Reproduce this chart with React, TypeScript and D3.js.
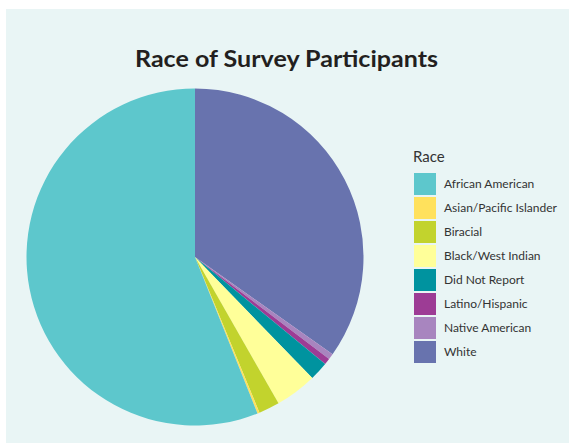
import React from "react";
import * as d3 from "d3";

const categories = [
  "African American",
  "Asian/Pacific Islander",
  "Biracial",
  "Black/West Indian",
  "Did Not Report",
  "Latino/Hispanic",
  "Native American",
  "White",
];
const values = [56.05, 0.2, 2.0, 4.0, 1.8, 0.6, 0.55, 34.8];
const colors = [
  "#5dc7cc",
  "#ffe15c",
  "#c2d32d",
  "#ffff99",
  "#00939f",
  "#9d3c95",
  "#a885bf",
  "#6873ae",
];

const W = 569;
const H = 443;

export default function App() {
  const cx = 195;
  const cy = 257;
  const r = 168.5;
  const data = categories.map((c, i) => ({ c, v: values[i], col: colors[i] })).reverse();
  const pie = d3.pie<any>().sort(null).value((d) => d.v);
  const arc = d3.arc<any>().innerRadius(0).outerRadius(r);
  const arcs = pie(data);
  const legendY = d3.scaleBand().domain(categories).range([172, 172 + 24 * 8]);

  return (
    <svg
      width={W}
      height={H}
      style={{ position: "absolute", left: 0, top: 0, fontFamily: "Lato, sans-serif" }}
    >
      <rect x={6} y={9} width={W - 6} height={H - 9} fill="#e9f5f5" />
      <text
        x={135}
        y={67}
        fontSize={22}
        fontWeight="bold"
        fill="#231f20"
        textLength={303}
        lengthAdjust="spacingAndGlyphs"
      >
        Race of Survey Participants
      </text>
      <g transform={`translate(${cx},${cy})`}>
        {arcs.map((a, i) => (
          <path key={i} d={arc(a) as string} fill={a.data.col} />
        ))}
      </g>
      <text x={413} y={162} fontSize={15} fill="#333">
        Race
      </text>
      {categories.map((c, i) => (
        <g key={c}>
          <rect x={414} y={legendY(c)! + 1} width={22} height={22} fill={colors[i]} />
          <text x={444} y={legendY(c)! + 16} fontSize={12} fill="#333">
            {c}
          </text>
        </g>
      ))}
    </svg>
  );
}
